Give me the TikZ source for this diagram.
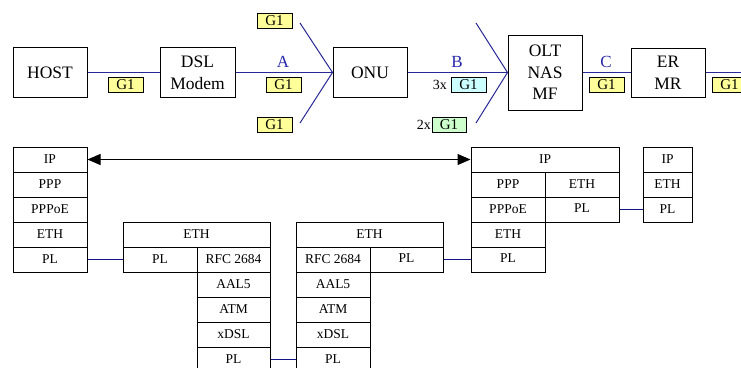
\documentclass[tikz,border=0pt]{standalone}
\usepackage{fontspec}
\setmainfont{Liberation Serif}
\usetikzlibrary{arrows.meta}
\definecolor{lnk}{RGB}{40,40,150}
\definecolor{lnkdark}{RGB}{20,20,130}
\definecolor{lblue}{RGB}{40,40,170}
\definecolor{tagy}{RGB}{255,255,153}
\definecolor{tagc}{RGB}{204,255,255}
\definecolor{tagg}{RGB}{204,255,204}
\tikzset{
  box/.style={draw=black, line width=1pt, fill=white, inner sep=0pt, align=center,
    minimum width=74pt, minimum height=50pt, font=\fontsize{17.5}{21.7}\selectfont},
  cell/.style={draw=black, line width=1pt, fill=white, inner sep=0pt,
    minimum height=25pt, font=\fontsize{13.5}{15}\selectfont},
  tag/.style={draw=black, line width=0.8pt, fill=tagy, inner sep=0pt,
    minimum width=35pt, minimum height=15pt, font=\fontsize{15}{16}\selectfont},
  lbl/.style={text=lblue, inner sep=0pt, font=\fontsize{17}{18}\selectfont},
  mult/.style={inner sep=0pt, anchor=east, font=\fontsize{14}{15}\selectfont},
  link/.style={draw=lnk, line width=1pt},
  linkd/.style={draw=lnkdark, line width=1pt}
}
\begin{document}
\begin{tikzpicture}[x=1pt,y=-1pt]
\useasboundingbox (0,0) rectangle (741,367);
\clip (0,0) rectangle (741,367);
% ---------- top row ----------
\node[box] (host) at (50,72.5) {HOST};
\node[box, minimum width=75pt] (dsl) at (197.5,72.5) {DSL\\Modem};
\node[box] (onu) at (370,72.5) {ONU};
\node[box, minimum height=75pt] (olt) at (545,72.5) {OLT\\NAS\\MF};
\node[box, minimum height=49pt] (er) at (668,72.5) {ER\\MR};
\coordinate (rend) at (750,72.5);
\coordinate (oa) at (300,23);
\coordinate (ob) at (300,123);
\coordinate (la) at (476,23);
\coordinate (lb) at (476,123);
\draw[link] (host) -- (dsl);
\draw[link] (dsl) -- (onu);
\draw[link] (onu) -- (olt);
\draw[link] (olt) -- (er);
\draw[link] (er) -- (rend);
\draw[link] (oa) -- (onu.west);
\draw[link] (ob) -- (onu.west);
\draw[link] (la) -- (olt.west);
\draw[link] (lb) -- (olt.west);
\node[lbl] (A) at (283,61.5) {A};
\node[lbl] (B) at (457,61.5) {B};
\node[lbl] (C) at (606,61.5) {C};
\node[tag] (g1) at (125.5,84.5) {G1};
\node[tag] (g2) at (283.5,84.5) {G1};
\node[tag] (g3) at (274.5,20.5) {G1};
\node[tag] (g4) at (274.5,124.5) {G1};
\node[tag, fill=tagc] (g5) at (468.5,84.5) {G1};
\node[tag, fill=tagg, minimum width=34pt] (g6) at (449,124.5) {G1};
\node[tag] (g7) at (606.5,84.5) {G1};
\node[tag] (g8) at (729.5,84.5) {G1};
\node[mult] (m3) at (447,85) {3x};
\node[mult] (m2) at (431,125) {2x};
% ---------- host stack ----------
\node[cell, minimum width=74pt] (hIP) at (50,159.5) {IP};
\node[cell, minimum width=74pt] (hPPP) at (50,184.5) {PPP};
\node[cell, minimum width=74pt] (hPPPoE) at (50,209.5) {PPPoE};
\node[cell, minimum width=74pt] (hETH) at (50,234.5) {ETH};
\node[cell, minimum width=74pt] (hPL) at (50,259.5) {PL};
% ---------- DSL modem stack ----------
\node[cell, minimum width=147pt] (dETH) at (196.5,234.5) {ETH};
\node[cell, minimum width=74pt] (dPL) at (160,259.5) {PL};
\node[cell, minimum width=73pt] (dRFC) at (233.5,259.5) {RFC 2684};
\node[cell, minimum width=73pt] (dAAL) at (233.5,284.5) {AAL5};
\node[cell, minimum width=73pt] (dATM) at (233.5,309.5) {ATM};
\node[cell, minimum width=73pt] (dxDSL) at (233.5,334.5) {xDSL};
\node[cell, minimum width=73pt] (dPL2) at (233.5,359.5) {PL};
% ---------- ONU stack ----------
\node[cell, minimum width=147pt] (oETH) at (369.5,234.5) {ETH};
\node[cell, minimum width=74pt] (oRFC) at (333,259.5) {RFC 2684};
\node[cell, minimum width=73pt] (oPL) at (406.5,259.5) {\raisebox{3pt}{PL}};
\node[cell, minimum width=74pt] (oAAL) at (333,284.5) {AAL5};
\node[cell, minimum width=74pt] (oATM) at (333,309.5) {ATM};
\node[cell, minimum width=74pt] (oxDSL) at (333,334.5) {xDSL};
\node[cell, minimum width=74pt] (oPL2) at (333,359.5) {PL};
% ---------- OLT stack ----------
\node[cell, minimum width=148pt] (rIP) at (545,159.5) {IP};
\node[cell, minimum width=74pt] (rPPP) at (508,184.5) {PPP};
\node[cell, minimum width=74pt] (rETHb) at (582,184.5) {ETH};
\node[cell, minimum width=74pt] (rPPPoE) at (508,209.5) {PPPoE};
\node[cell, minimum width=74pt] (rPLb) at (582,209.5) {\raisebox{3pt}{PL}};
\node[cell, minimum width=74pt] (rETH) at (508,234.5) {ETH};
\node[cell, minimum width=74pt] (rPL) at (508,259.5) {\raisebox{3pt}{PL}};
% ---------- ER stack ----------
\node[cell, minimum width=49pt] (eIP) at (667.5,159.5) {IP};
\node[cell, minimum width=49pt] (eETH) at (667.5,184.5) {ETH};
\node[cell, minimum width=49pt] (ePL) at (667.5,209.5) {PL};
% ---------- connectors ----------
\draw[line width=1pt, {Triangle[length=13pt,width=11pt]}-{Triangle[length=13pt,width=11pt]}] (hIP) -- (rIP);
\draw[linkd] (hPL) -- (dPL);
\draw[linkd] (dPL2) -- (oPL2);
\draw[linkd] (oPL) -- (rPL);
\draw[linkd] (rPLb) -- (ePL);
\end{tikzpicture}
\end{document}
